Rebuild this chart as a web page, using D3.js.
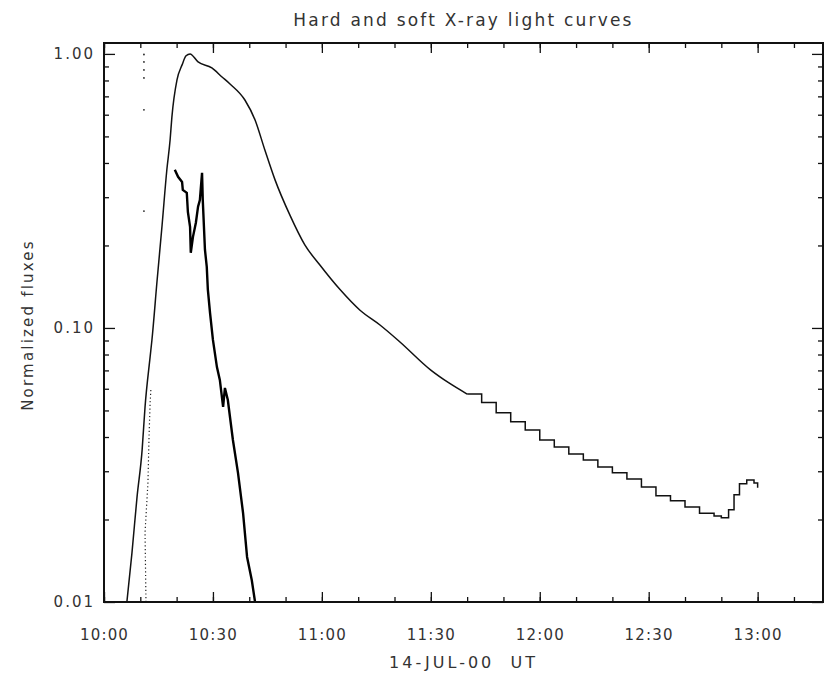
<!DOCTYPE html>
<html>
<head>
<meta charset="utf-8">
<script src="https://cdn.jsdelivr.net/npm/d3@7"></script>
<style>
  html, body { margin: 0; padding: 0; background: #fff; }
  svg text { font-family: "DejaVu Sans", sans-serif; fill: #333; }
</style>
</head>
<body>
<svg id="chart" width="825" height="678"></svg>
<script>
// Minutes after 10:00 UT on 14 July 2000, with normalized fluxes.

// Soft X-ray: rise, peak and decay
const softMinutes = [6.3, 7.7, 9.1, 10.5, 11.3, 12.7, 13.2, 14.6, 16.0, 17.3, 18.2, 18.7, 20.1, 21.5, 22.6, 23.7,
  25.9, 29.7, 32.5, 34.7, 38.8, 41.6, 44.3, 47.1, 51.2, 55.3, 59.4, 65.0, 70.5, 76.0, 81.5,
  90.0, 95.0, 100.0];
const softValues = [0.0100, 0.0151, 0.0242, 0.0359, 0.0515, 0.0784, 0.0904, 0.148, 0.2375, 0.377, 0.485, 0.589, 0.804, 0.912, 0.984, 1.00,
  0.935, 0.889, 0.824, 0.777, 0.679, 0.574, 0.446, 0.347, 0.258, 0.201, 0.170, 0.138, 0.116, 0.1025, 0.0889,
  0.0702, 0.0630, 0.0574];

// Soft X-ray: late decay, quantized levels
const softTailMinutes = [100, 104, 108, 112, 116, 120, 124, 128, 132, 136, 140, 144, 148,
  152, 156, 160, 164, 168, 170, 172, 173.5, 175, 177, 179, 180];
const softTailValues = [0.0574, 0.0535, 0.0490, 0.0455, 0.0424, 0.0390, 0.0368, 0.0347, 0.0330, 0.0311, 0.0296, 0.0281, 0.0263,
  0.0244, 0.0234, 0.0222, 0.0211, 0.0206, 0.0203, 0.0217, 0.0246, 0.0270, 0.0279, 0.0272, 0.0261];

// Hard X-ray
const hardMinutes = [19.5, 20.4, 21.5, 21.7, 22.8, 23.1, 23.7, 23.9, 24.5, 25.3, 25.9, 26.4, 27.0, 27.2,
  27.8, 28.3, 28.6, 29.2, 30.0, 31.1, 31.9, 32.8, 33.3, 34.1, 35.5, 36.9, 38.3, 39.4, 40.7, 41.6];
const hardValues = [0.378, 0.356, 0.341, 0.319, 0.311, 0.265, 0.234, 0.188, 0.215, 0.242, 0.277, 0.293, 0.368, 0.293,
  0.193, 0.167, 0.138, 0.1135, 0.0904, 0.0720, 0.0646, 0.0515, 0.0604, 0.0546, 0.0390, 0.0296, 0.0211, 0.0146, 0.0120, 0.0100];

// Third channel (dotted)
const dottedMinutes = [11.56, 11.3, 12.1, 12.4, 12.7, 12.9];
const dottedValues = [0.0100, 0.0179, 0.0272, 0.0400, 0.0532, 0.0594];
const markerMinutes = [11.0, 11.0, 11.0, 11.0, 11.0, 11.0];
const markerValues = [0.995, 0.935, 0.874, 0.817, 0.625, 0.267];

// Axis labels
const yTickValues = [0.01, 0.1, 1.0];
const yTickLabels = ["0.01", "0.10", "1.00"];
const titleText = "Hard and soft X-ray light curves";
const xTitleText = "14-JUL-00  UT";
const yTitleText = "Normalized fluxes";

const t0 = Date.UTC(2000, 6, 14, 10, 0);
const toDate = m => new Date(t0 + m * 60000);

const plotLeft = 104, plotRight = 823, plotTop = 43, plotBottom = 602;
const svg = d3.select("#chart");

const x = d3.scaleUtc().domain([toDate(0), toDate(198)]).range([plotLeft, plotRight]);
const y = d3.scaleLog().domain([0.01, 1.096]).range([plotBottom, plotTop]);

svg.append("defs").append("clipPath").attr("id", "plot")
  .append("rect").attr("x", plotLeft).attr("y", plotTop)
  .attr("width", plotRight - plotLeft).attr("height", plotBottom - plotTop);

const g = svg.append("g").attr("clip-path", "url(#plot)");

const zip = (ms, vs) => ms.map((m, i) => [toDate(m), vs[i]]);

const lineLin = d3.line().x(d => x(d[0])).y(d => y(d[1]));
const lineSmooth = d3.line().x(d => x(d[0])).y(d => y(d[1])).curve(d3.curveMonotoneX);
const lineStep = d3.line().x(d => x(d[0])).y(d => y(d[1])).curve(d3.curveStepAfter);

g.append("path").datum(zip(softMinutes, softValues))
  .attr("d", lineSmooth).attr("fill", "none").attr("stroke", "#111").attr("stroke-width", 1.5)
  .attr("stroke-linejoin", "round");
g.append("path").datum(zip(softTailMinutes, softTailValues))
  .attr("d", lineStep).attr("fill", "none").attr("stroke", "#111").attr("stroke-width", 1.5);
g.append("path").datum(zip(hardMinutes, hardValues))
  .attr("d", lineLin).attr("fill", "none").attr("stroke", "#000").attr("stroke-width", 2.4);
g.append("path").datum(zip(dottedMinutes, dottedValues))
  .attr("d", lineLin).attr("fill", "none").attr("stroke", "#222").attr("stroke-width", 1.2)
  .attr("stroke-dasharray", "1.2,2.5");
g.selectAll("circle.marker").data(zip(markerMinutes, markerValues)).enter().append("circle")
  .attr("class", "marker").attr("cx", d => x(d[0])).attr("cy", d => y(d[1])).attr("r", 0.9).attr("fill", "#222");

// Axes: ticks on all four sides, pointing inward
const minorX = x.ticks(d3.utcMinute.every(10));
const majorX = x.ticks(d3.utcMinute.every(30));
const fmt = d3.utcFormat("%H:%M");

svg.append("g").attr("transform", `translate(0,${plotBottom})`)
  .call(d3.axisBottom(x).tickValues(minorX).tickSize(-5).tickFormat(""));
svg.append("g").attr("transform", `translate(0,${plotTop})`)
  .call(d3.axisTop(x).tickValues(minorX).tickSize(-5).tickFormat(""));
svg.append("g").attr("class", "xlab").attr("transform", `translate(0,${plotBottom})`)
  .call(d3.axisBottom(x).tickValues(majorX).tickSize(-10).tickPadding(27).tickFormat(fmt));
svg.append("g").attr("transform", `translate(0,${plotTop})`)
  .call(d3.axisTop(x).tickValues(majorX).tickSize(-10).tickFormat(""));

const minorY = [];
[0.01, 0.1].forEach(dec => { for (let k = 2; k <= 9; k++) minorY.push(dec * k); });
svg.append("g").attr("transform", `translate(${plotLeft},0)`)
  .call(d3.axisLeft(y).tickValues(minorY).tickSize(-5).tickFormat(""));
svg.append("g").attr("transform", `translate(${plotRight},0)`)
  .call(d3.axisRight(y).tickValues(minorY).tickSize(-5).tickFormat(""));
svg.append("g").attr("class", "ylab").attr("transform", `translate(${plotLeft},0)`)
  .call(d3.axisLeft(y).tickValues(yTickValues).tickSize(-11).tickPadding(9)
    .tickFormat((d, i) => yTickLabels[i]));
svg.append("g").attr("transform", `translate(${plotRight},0)`)
  .call(d3.axisRight(y).tickValues(yTickValues).tickSize(-11).tickFormat(""));

svg.selectAll(".domain").remove();
svg.selectAll(".tick line").attr("stroke", "#111").attr("stroke-width", 1.3);
svg.selectAll(".tick text").attr("font-size", 15).attr("fill", "#333")
  .style("font-family", "'DejaVu Sans', sans-serif");
svg.selectAll(".xlab .tick text").attr("letter-spacing", "1.2px");
svg.selectAll(".ylab .tick text").attr("letter-spacing", "2px");

// Frame
svg.append("rect").attr("x", plotLeft).attr("y", plotTop)
  .attr("width", plotRight - plotLeft).attr("height", plotBottom - plotTop)
  .attr("fill", "none").attr("stroke", "#111").attr("stroke-width", 2);

// Titles
svg.append("text").attr("x", (plotLeft + plotRight) / 2).attr("y", 26).attr("text-anchor", "middle")
  .attr("font-size", 17).attr("letter-spacing", "2.2px").text(titleText);
svg.append("text").attr("x", (plotLeft + plotRight) / 2).attr("y", 668).attr("text-anchor", "middle")
  .attr("font-size", 16).attr("letter-spacing", "3px")
  .style("white-space", "pre").text(xTitleText);
svg.append("text").attr("transform", `translate(33,325) rotate(-90)`).attr("text-anchor", "middle")
  .attr("font-size", 15).attr("letter-spacing", "2.2px").text(yTitleText);
</script>
</body>
</html>
